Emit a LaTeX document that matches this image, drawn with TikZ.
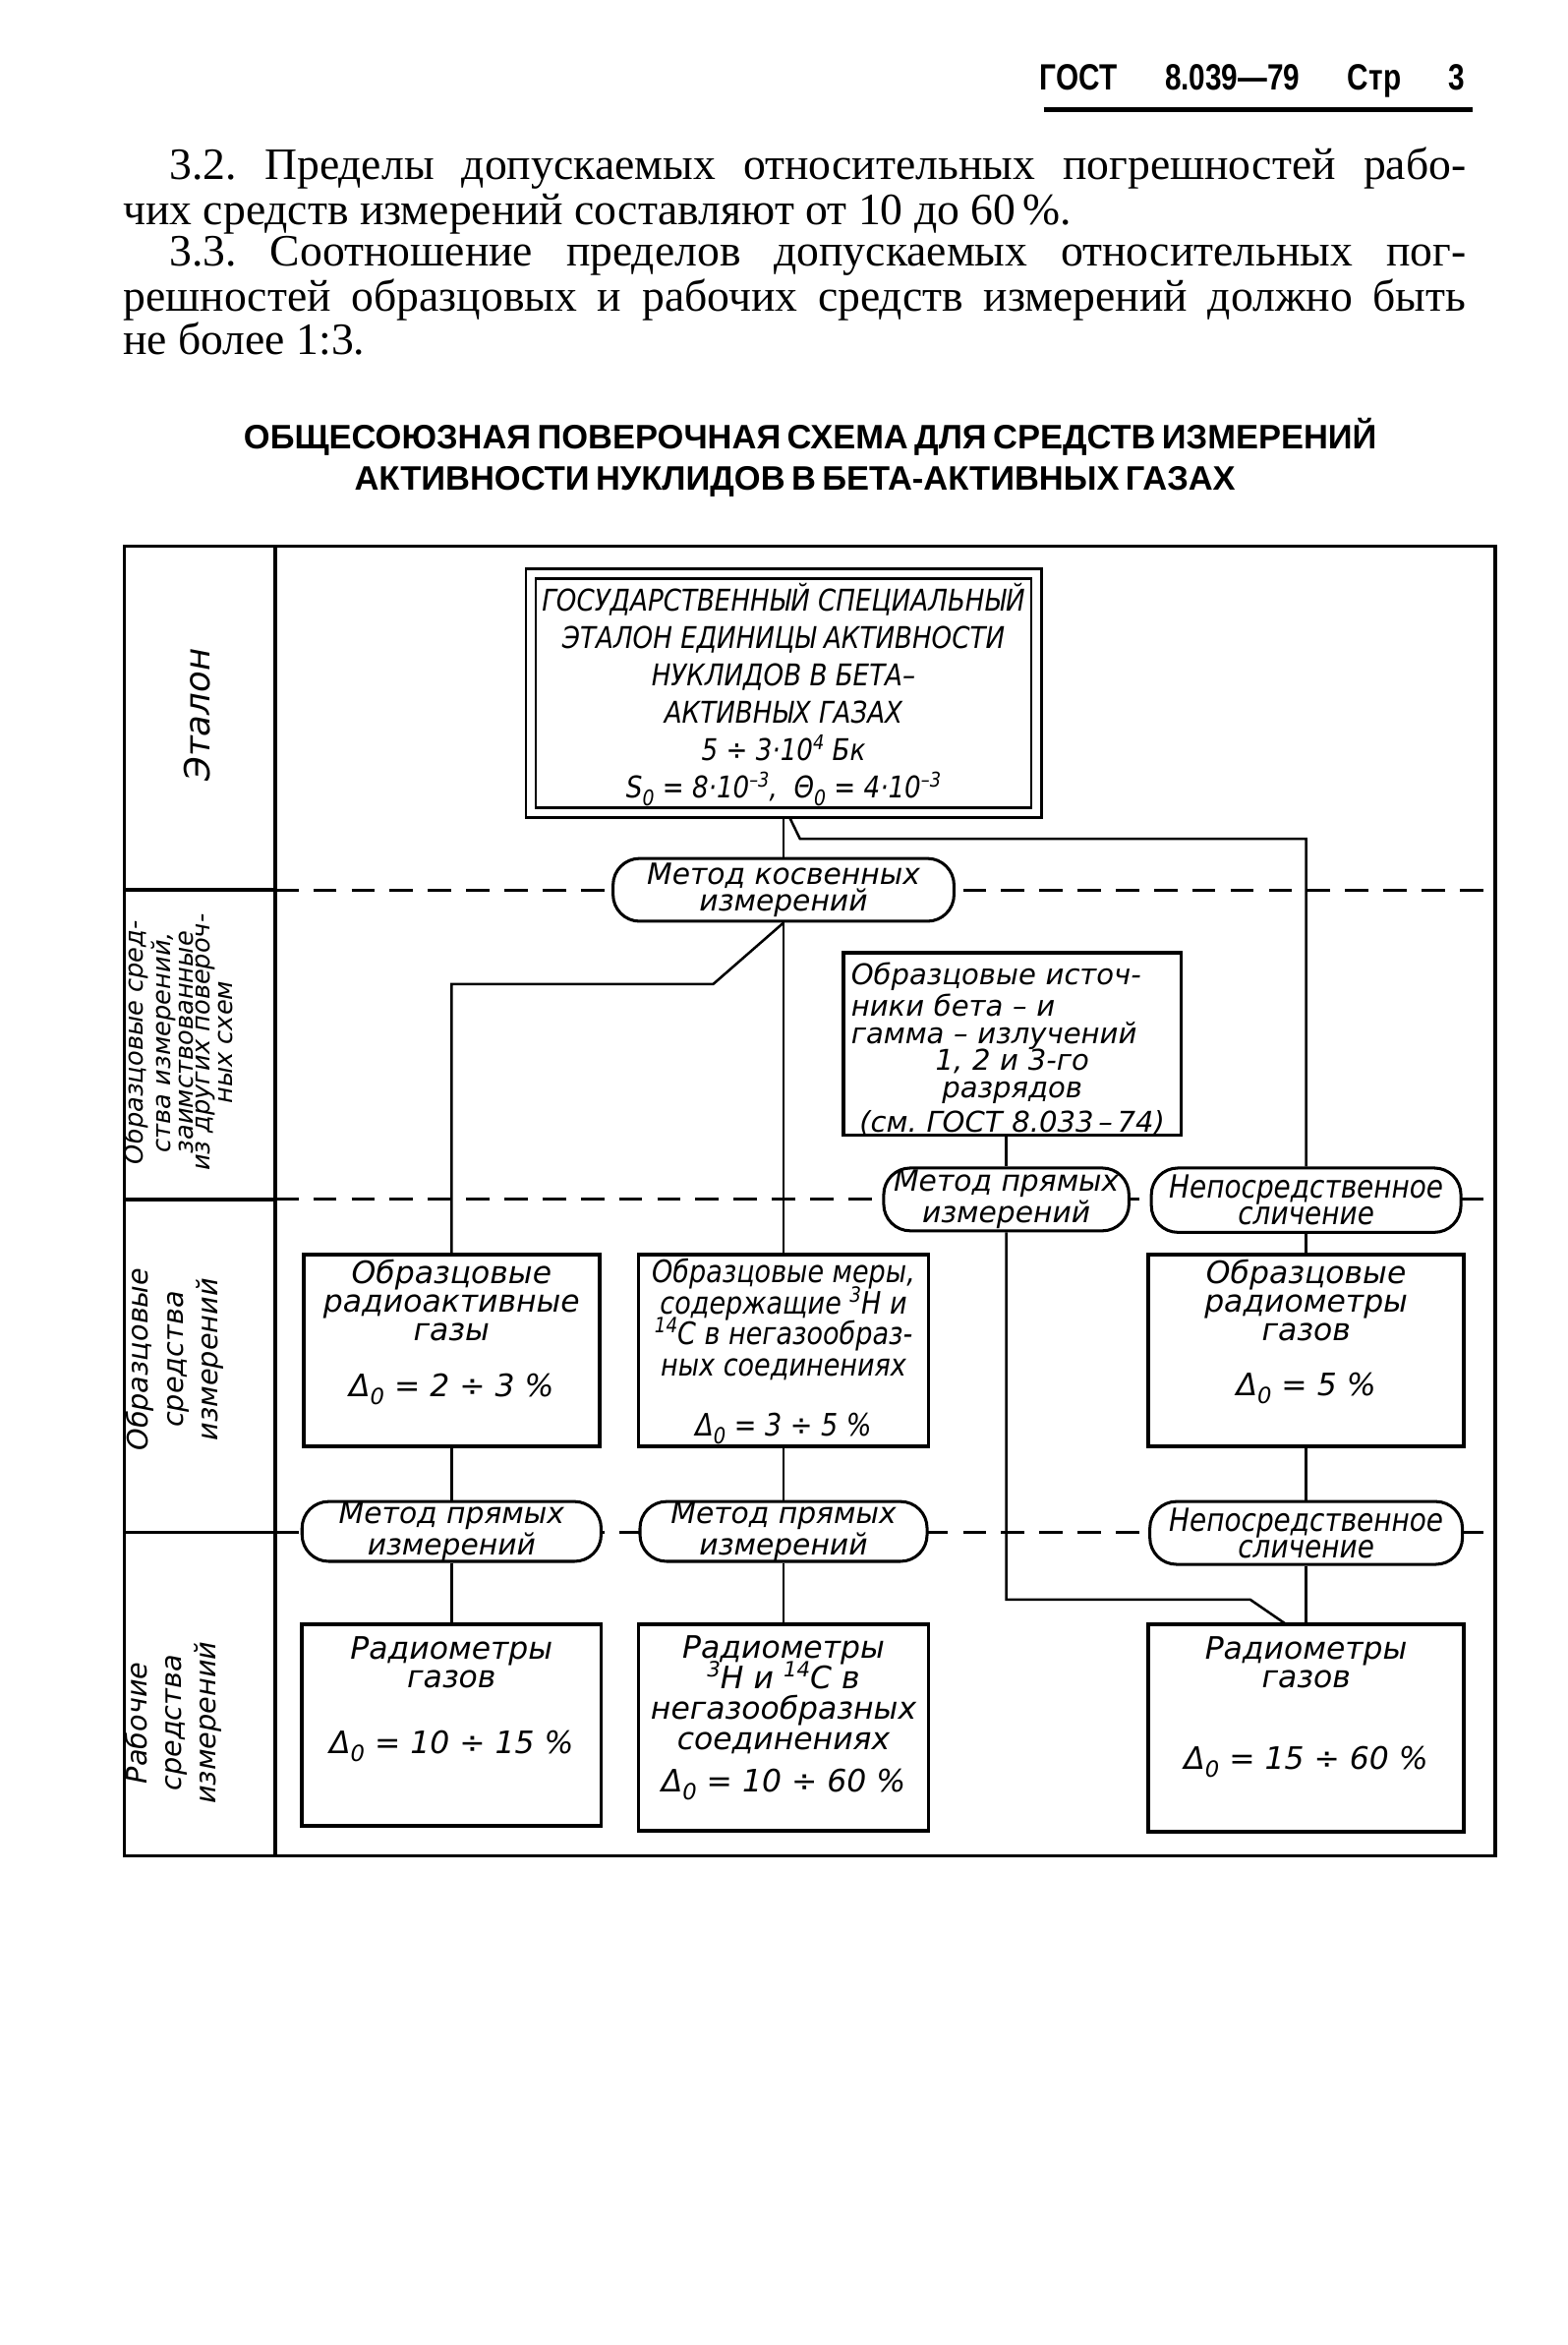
\documentclass[tikz,border=0pt]{standalone}
\usepackage{fontspec}
\usepackage{graphicx}
\setmainfont{Liberation Serif}
\newfontfamily\gost{DejaVu Sans}
\newfontfamily\gostc[FakeStretch=0.86]{DejaVu Sans}
\newfontfamily\hdrfont[FakeStretch=0.8]{Liberation Sans}
\newfontfamily\ttlfont{Liberation Sans}
\newcommand\fsz[2]{\fontsize{#1}{#2}\selectfont}
\newcommand\gsub[1]{\smash{\raisebox{-0.45ex}{\scalebox{0.72}{#1}}}}
\newcommand\gsup[1]{\smash{\raisebox{0.7ex}{\scalebox{0.68}{#1}}}}
\newcommand\mkbox[6]{\node[#1, minimum width={(#4-#2)*0.45pt}, minimum height={(#5-#3)*0.45pt}] (#6) at ({(#2+#4)/2},{(#3+#5)/2}) {};}
\pgfdeclarelayer{bg}
\pgfsetlayers{bg,main}
\frenchspacing
\begin{document}
\begin{tikzpicture}[x=0.45pt,y=-0.45pt,
  frm/.style={line width=1pt},
  conn/.style={line width=0.75pt},
  dsh/.style={line width=0.9pt, dash pattern=on 7pt off 4.5pt},
  bx/.style={draw, line width=1.1pt, fill=white, inner sep=0pt},
  pil/.style={draw, line width=0.9pt, fill=white, rounded corners=8pt, inner sep=0pt},
  boxtxt/.style={font=\gost\itshape\fsz{9.3}{8.5}, align=center, inner sep=0pt, anchor=north},
  piltxt/.style={font=\gost\itshape\fsz{8.8}{8.1}, align=center, inner sep=0pt},
  piltxtc/.style={font=\gostc\itshape\fsz{9.6}{8.1}, align=center, inner sep=0pt},
  lbl/.style={rotate=90, align=center, inner sep=0pt, font=\gost\itshape\fsz{8.5}{10.4}},
  partxt/.style={anchor=mid west, inner sep=0pt, font=\fsz{13.5}{16}}
]
\useasboundingbox (0,0) rectangle (1048,1568);

% header
\node[anchor=mid west, inner sep=0pt, font=\hdrfont\bfseries\fsz{11}{13}] (hd) at (695,55) {\makebox[128pt][s]{ГОСТ 8.039—79 Стр 3}};
\draw[line width=1.4pt] (698,73.5) -- (985,73.5);

% paragraphs
\node[partxt] (t1) at (113,115) {\makebox[390.15pt][s]{3.2. Пределы допускаемых относительных погрешностей рабо-}};
\node[partxt] (t2) at (82,145) {чих средств измерений составляют от 10 до 60\,\%.};
\node[partxt] (t3) at (113,173) {\makebox[390.15pt][s]{3.3. Соотношение пределов допускаемых относительных пог-}};
\node[partxt] (t4) at (82,203) {\makebox[404.1pt][s]{решностей образцовых и рабочих средств измерений должно быть}};
\node[partxt] (t5) at (82,232) {не более 1:3.};

% title
\node[inner sep=0pt, font=\ttlfont\bfseries\fsz{10.2}{12}] (ti1) at (540,292) {\makebox[339.3pt][s]{ОБЩЕСОЮЗНАЯ ПОВЕРОЧНАЯ СХЕМА ДЛЯ СРЕДСТВ ИЗМЕРЕНИЙ}};
\node[inner sep=0pt, font=\ttlfont\bfseries\fsz{10.2}{12}] (ti2) at (529.5,322) {\makebox[263.2pt][s]{АКТИВНОСТИ НУКЛИДОВ В БЕТА-АКТИВНЫХ ГАЗАХ}};

% frame
\draw[frm] (83,365) rectangle (1000,1241);
\draw[frm] (184,365) -- (184,1241);
\draw[frm] (83,595) -- (184,595);
\draw[frm] (83,802) -- (184,802);
\draw[frm] (83,1024.5) -- (184,1024.5);

% row labels
\node[lbl, font=\gost\itshape\fsz{10.5}{12}] (L1) at (132,478) {Эталон};
\node[lbl, font=\gost\itshape\fsz{7.6}{5.0}] (L2) at (119,697) {Образцовые сред-\\ства измерений,\\заимствованные\\из других повероч-\\ных схем};
\node[lbl] (L3) at (117,909) {Образцовые\\средства\\измерений};
\node[lbl] (L4) at (116,1152) {Рабочие\\средства\\измерений};

% etalon
\mkbox{bx, double, double distance=2.2pt, line width=0.8pt}{355}{383.5}{693}{543.5}{E}
\node[align=center, inner sep=0pt, font=\gostc\itshape\fsz{9}{11.25}] (Et) at (524,463) {ГОСУДАРСТВЕННЫЙ СПЕЦИАЛЬНЫЙ\\ЭТАЛОН ЕДИНИЦЫ АКТИВНОСТИ\\НУКЛИДОВ В БЕТА–\\АКТИВНЫХ ГАЗАХ\hspace*{20pt}\\5 ÷ 3·10\gsup{4} Бк\hspace*{20pt}\\S\gsub{0} = 8·10\gsup{–3}, \ Θ\gsub{0} = 4·10\gsup{–3}};

% pills
\mkbox{pil}{410}{574}{638}{616}{P1}
\node[piltxt] (P1t) at (P1) {Метод косвенных\\измерений};
\mkbox{pil}{591}{781}{755}{823}{P2}
\node[piltxt] (P2t) at (P2) {Метод прямых\\измерений};
\mkbox{pil}{770}{781}{977}{824}{P3}
\node[piltxtc] (P3t) at (P3) {Непосредственное\\сличение};
\mkbox{pil}{202}{1004}{402}{1044}{P4}
\node[piltxt] (P4t) at (P4) {Метод прямых\\измерений};
\mkbox{pil}{428}{1004}{620}{1044}{P5}
\node[piltxt] (P5t) at (P5) {Метод прямых\\измерений};
\mkbox{pil}{769}{1004}{978}{1046}{P6}
\node[piltxtc] (P6t) at (P6) {Непосредственное\\сличение};

% boxes
\mkbox{bx}{564}{637}{790}{759}{S}
\node[boxtxt, text width=97pt, font=\gost\itshape\fsz{8.6}{8.2}] (St) at (677,643) {Образцовые источ-\hfill\null\\ники бета – и\hfill\null\\гамма – излучений\hfill\null\\1, 2 и 3-го\\разрядов\\[1pt](см. ГОСТ 8.033\,–\,74)};
\mkbox{bx}{203}{839}{401}{967}{A3}
\node[boxtxt] (A3t) at (302,842) {Образцовые\\радиоактивные\\газы\\[8.5pt]Δ\gsub{0} = 2 ÷ 3 \%};
\mkbox{bx}{427}{839}{621}{967}{B3}
\node[boxtxt, font=\gostc\itshape\fsz{9.3}{9.4}] (B3t) at (524,841) {Образцовые меры,\\содержащие \gsup{3}H и\\\gsup{14}C в негазообраз-\\ных соединениях\\[8.6pt]Δ\gsub{0} = 3 ÷ 5 \%};
\mkbox{bx}{768}{839}{979}{967}{C3}
\node[boxtxt] (C3t) at (873.5,842) {Образцовые\\радиометры\\газов\\[8.1pt]Δ\gsub{0} = 5 \%};
\mkbox{bx}{202}{1086}{402}{1221}{A4}
\node[boxtxt] (A4t) at (302,1094) {Радиометры\\газов\\[11.3pt]Δ\gsub{0} = 10 ÷ 15 \%};
\mkbox{bx}{427}{1086}{621}{1224}{B4}
\node[boxtxt, font=\gost\itshape\fsz{9.3}{9.2}] (B4t) at (524,1093) {Радиометры\\\gsup{3}H и \gsup{14}C в\\негазообразных\\соединениях\\[3.5pt]Δ\gsub{0} = 10 ÷ 60 \%};
\mkbox{bx}{768}{1086}{979}{1225}{C4}
\node[boxtxt] (C4t) at (873.5,1094) {Радиометры\\газов\\[16.2pt]Δ\gsub{0} = 15 ÷ 60 \%};

\coordinate (k1) at (836,1069.5);
\coordinate (k2) at (860,1086);

\begin{pgfonlayer}{bg}
\fill[white] (0,0) rectangle (1048,1568);
\draw[dsh] (184,595) -- (1000,595);
\draw[dsh] (184,802) -- (1000,802);
\draw[dsh] (184,1024.5) -- (1000,1024.5);
\draw[conn] (E.south) -- (P1.north);
\draw[conn] (E.south) ++(3,0) -- ++(8,16.5) -| (P3.north);
\draw[conn] (P1.south) -- (B3.north);
\draw[conn] (P1.south) -- ++(-47,41) -| (A3.north);
\draw[conn] (S.south -| P2.north) -- (P2.north);
\draw[conn] (P2.south) |- (k1) -- (k2);
\draw[conn] (P3.south) -- (C3.north);
\draw[conn] (A3.south) -- (P4.north);
\draw[conn] (P4.south) -- (A4.north);
\draw[conn] (B3.south) -- (P5.north);
\draw[conn] (P5.south) -- (B4.north);
\draw[conn] (C3.south) -- (P6.north);
\draw[conn] (P6.south) -- (C4.north);
\end{pgfonlayer}
\end{tikzpicture}
\end{document}
